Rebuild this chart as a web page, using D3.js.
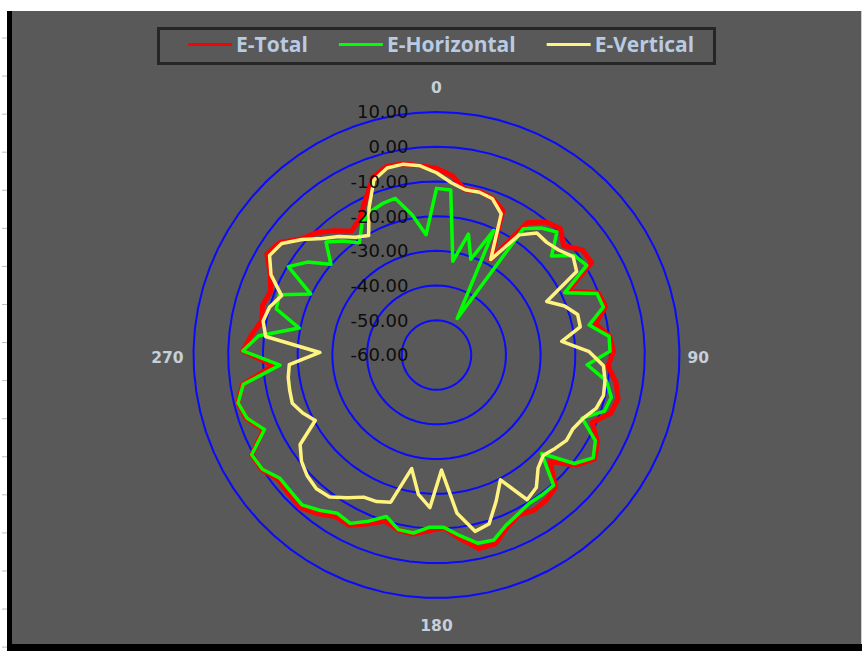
<!DOCTYPE html>
<html><head><meta charset="utf-8">
<script src="https://cdnjs.cloudflare.com/ajax/libs/d3/7.8.5/d3.min.js"></script>
<style>html,body{margin:0;padding:0;background:#fff;}svg{display:block;}</style>
</head><body>
<svg id="chart" width="862" height="651"></svg>
<script>
// ---- data (73 categories, 0..360 deg in 5 deg steps) ----
const angles = [0,5,10,15,20,25,30,35,40,45,50,55,60,65,70,75,80,85,90,95,100,105,110,115,120,125,130,135,140,145,150,155,160,165,170,175,180,185,190,195,200,205,210,215,220,225,230,235,240,245,250,255,260,265,270,275,280,285,290,295,300,305,310,315,320,325,330,335,340,345,350,355,360];
const eTotal = [-6.2,-8.1,-11.7,-11.3,-12.1,-14.2,-28.4,-13.8,-10.4,-9.0,-11.7,-8.2,-8.0,-17.9,-10.1,-9.3,-13.3,-9.8,-9.0,-10.5,-7.7,-6.2,-7.1,-11.1,-7.3,-5.5,-8.7,-15.1,-8.7,-7.6,-7.2,-8.2,-6.3,-3.0,-2.9,-6.6,-10.2,-9.3,-8.0,-8.4,-9.9,-7.4,-4.9,-5.1,-2.8,-1.1,-1.6,-2.0,0.2,0.5,-5.7,-2.3,-1.1,-3.5,-12.9,-4.2,-6.4,-8.7,-7.9,-8.8,-6.8,-3.1,-4.5,-8.7,-10.7,-13.6,-16.7,-15.1,-10.9,-5.7,-3.8,-4.1,-5.3];
const eHorizontal = [-12,-12.3,-32.6,-24,-30.7,-20.5,-47.9,-15.9,-12.6,-10.4,-16.3,-11,-9.6,-18.9,-10.5,-10,-15.2,-10,-10,-16.5,-10.5,-8.2,-9,-14.3,-8,-6,-9.5,-18.5,-9.5,-9.5,-9.6,-8.5,-7,-4.2,-4.5,-7.5,-10.3,-10.3,-8.3,-8.5,-11.3,-8.3,-5.5,-6.2,-4,-2,-2.5,-2.6,0,0.5,-6,-2.5,-1.2,-3.7,-14.8,-4.2,-8.5,-19.7,-12,-11.5,-19.7,-10.3,-14.2,-19.9,-14.5,-17.5,-20.8,-16.5,-14.5,-13.7,-13.3,-19,-25.2];
const eVertical = [-7.5,-10.2,-11.7,-11.5,-12.2,-15.3,-28.4,-18,-14.5,-14.6,-13.6,-11.5,-13,-24.7,-20.5,-17.7,-17.8,-23.7,-16,-11.8,-10.9,-10.5,-11.5,-14,-15.3,-15.2,-16.5,-17.8,-16.2,-12.2,-10.8,-19.6,-14.5,-9,-8,-14,-26.8,-16,-19.5,-26.5,-15.6,-14.4,-14,-11.5,-8.8,-8.2,-9,-10.5,-13,-20.3,-18,-16.2,-16.5,-16.8,-17.5,-26.4,-10.5,-9.1,-10,-12.2,-7,-4,-5,-9,-13,-15.8,-18.8,-20.4,-13.4,-6.5,-4.3,-4.2,-5.3];
const radialTicks = [-60,-50,-40,-30,-20,-10,0,10];
const angleLabels = ["0","90","180","270"];
const seriesNames = ["E-Total","E-Horizontal","E-Vertical"];
const seriesColors = ["#ff0000","#00ff00","#fff380"];

// ---- layout ----
const svg = d3.select("#chart");
const cx = 436.5, cy = 355, R = 243;

svg.append("rect").attr("x",12).attr("y",11).attr("width",849).attr("height",633).attr("fill","#595959");
svg.append("rect").attr("x",7).attr("y",11).attr("width",5).attr("height",640).attr("fill","#000");
svg.append("rect").attr("x",7).attr("y",644).attr("width",855).attr("height",7).attr("fill","#000");
svg.append("line").attr("x1",861.5).attr("x2",861.5).attr("y1",11).attr("y2",644).attr("stroke","#d0d0d0");
svg.append("g").selectAll("line").data(d3.range(38, 651, 38.07)).join("line")
  .attr("x1",2).attr("x2",7).attr("y1",d=>d).attr("y2",d=>d).attr("stroke","#bdbdbd").attr("stroke-width",1);

const r = d3.scaleLinear().domain([-60,10]).range([0,R]);
// category axis: each of the 73 categories gets an equal share of the circle
const a = d3.scaleLinear().domain([0, angles.length]).range([0, 2*Math.PI]);

const g = svg.append("g").attr("transform",`translate(${cx},${cy})`);

// grid rings (polygons through every category)
g.append("g").selectAll("path").data(radialTicks.slice(1)).join("path")
  .attr("d", t => d3.lineRadial().angle((d,i)=>a(i)).radius(()=>r(t)).curve(d3.curveLinearClosed)(angles))
  .attr("fill","none").attr("stroke","#0a0aff").attr("stroke-width",2);

// series
const series = [eTotal, eHorizontal, eVertical];
const widths = [5, 3.5, 3.5];
const line = d3.lineRadial().angle((d,i)=>a(i)).radius(d=>r(d)).curve(d3.curveLinearClosed);
series.forEach((s,k)=>{
  g.append("path").attr("d", line(s)).attr("fill","none")
   .attr("stroke",seriesColors[k]).attr("stroke-width",widths[k]).attr("stroke-linejoin","round");
});

// radial labels (plain hyphen-minus like the original)
const fmt = d3.formatLocale({decimal:".", thousands:",", grouping:[3], currency:["",""], minus:"-"}).format(".2f");
g.append("g").selectAll("text").data(radialTicks).join("text")
  .attr("x",-28).attr("y",d=>-r(d)).attr("dy","0.36em").attr("text-anchor","end")
  .attr("font-family","DejaVu Sans").attr("font-size",18).attr("fill","#0d0d0d")
  .text(d=>fmt(d));

// angle labels
const alab = g.append("g").attr("font-family","DejaVu Sans").attr("font-weight","bold")
  .attr("font-size",15.5).attr("fill","#c6cfdc");
alab.append("text").attr("x",0).attr("y",-R-25).attr("dy","0.36em").attr("text-anchor","middle").text(angleLabels[0]);
alab.append("text").attr("x",R+8).attr("y",2).attr("dy","0.36em").attr("text-anchor","start").text(angleLabels[1]);
alab.append("text").attr("x",0).attr("y",R+27).attr("dy","0.36em").attr("text-anchor","middle").text(angleLabels[2]);
alab.append("text").attr("x",-R-10).attr("y",2).attr("dy","0.36em").attr("text-anchor","end").text(angleLabels[3]);

// legend
svg.append("rect").attr("x",158.5).attr("y",28.5).attr("width",556).attr("height",35)
  .attr("fill","none").attr("stroke","#262626").attr("stroke-width",3);
let lx = 188;
seriesNames.forEach((n,k)=>{
  svg.append("line").attr("x1",lx).attr("x2",lx+44).attr("y1",44.5).attr("y2",44.5)
    .attr("stroke",seriesColors[k]).attr("stroke-width",3);
  const t = svg.append("text").attr("x",lx+48).attr("y",44).attr("dy","0.36em")
    .attr("font-family","Open Sans").attr("font-weight","bold").attr("font-size",21)
    .attr("fill","#b8cbe3").text(n);
  lx = lx + 48 + t.node().getComputedTextLength() + 31;
});
</script>
</body></html>
